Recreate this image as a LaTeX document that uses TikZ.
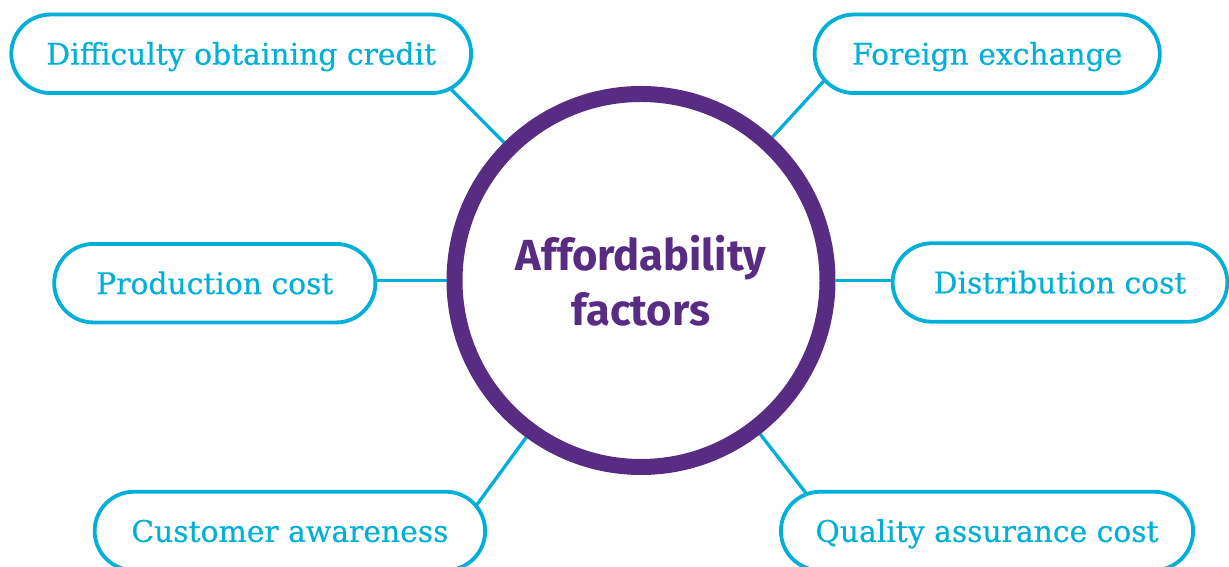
\documentclass[tikz,border=0pt]{standalone}
\usepackage{fontspec}
\usetikzlibrary{shapes.misc,backgrounds}
\newfontfamily\pillfont[FakeBold=0.4]{DejaVu Serif}
\newfontfamily\hubfont{Fira Sans}
\definecolor{linkcyan}{RGB}{0,176,216}
\definecolor{hubpurple}{RGB}{88,44,131}
\tikzset{
  hub/.style={circle, draw=hubpurple, line width=16pt, fill=white,
    minimum size=373pt, inner sep=0pt, text=hubpurple,
    font=\hubfont\bfseries\fontsize{43.5}{55}\selectfont, align=center},
  pill/.style={rounded rectangle, draw=linkcyan, line width=3.8pt, fill=white,
    minimum height=78.5pt, inner sep=0pt, text=linkcyan,
    text height=21.7pt, text depth=0pt,
    font=\pillfont\fontsize{29.8}{34}\selectfont},
  link/.style={draw=linkcyan, line width=3.3pt}
}
\begin{document}
\begin{tikzpicture}[x=1pt,y=1pt]
\useasboundingbox (0,0) rectangle (1229,567);
\node[hub] (c) at (641,286.5) {Affordability\\factors};

\node[pill, minimum width=459.9pt] (p1) at (241.2,513.2) {Difficulty obtaining credit};
\node[pill, minimum width=345.2pt] (p2) at (987.2,513.2) {Foreign exchange};
\node[pill, minimum width=321.2pt] (p3) at (214.8,283.8) {Production cost};
\node[pill, minimum width=334.7pt] (p4) at (1060,284.5)  {Distribution cost};
\node[pill, minimum width=390.5pt] (p5) at (289.9,36)    {Customer awareness};
\node[pill, minimum width=412.2pt] (p6) at (987,36)      {Quality assurance cost};

% spoke ends, placed radially from the hub inside each pill
\path (c.center) ++(134.8:285) coordinate (t1);
\path (c.center) ++(47.5:285)  coordinate (t2);
\path (c.center) ++(180:330)   coordinate (t3);
\path (c.center) ++(0:330)     coordinate (t4);
\path (c.center) ++(233.8:290) coordinate (t5);
\path (c.center) ++(307.8:285) coordinate (t6);

\begin{scope}[on background layer]
  \foreach \t in {t1,t2,t3,t4,t5,t6}
    \draw[link] (c) -- (\t);
\end{scope}
\end{tikzpicture}
\end{document}
